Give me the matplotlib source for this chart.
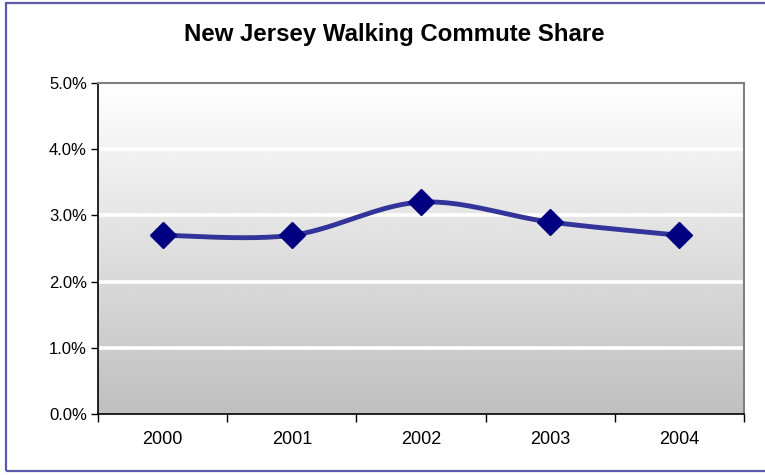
import numpy as np
import matplotlib
matplotlib.use("Agg")
import matplotlib.pyplot as plt
from matplotlib.patches import Rectangle
from matplotlib.ticker import FixedLocator, NullFormatter, FuncFormatter

plt.rcParams['font.family'] = ['Liberation Sans', 'DejaVu Sans']

years = ["2000", "2001", "2002", "2003", "2004"]
share = [2.7, 2.7, 3.2, 2.9, 2.7]  # percent of commuters who walk
y_ticks = [0, 1, 2, 3, 4, 5]


def smooth_curve(x, y, steps=40):
    """Catmull-Rom style Bezier smoothing through each point."""
    x = np.asarray(x, float)
    y = np.asarray(y, float)
    px = np.concatenate([[x[0]], x, [x[-1]]])
    py = np.concatenate([[y[0]], y, [y[-1]]])
    xs, ys = [], []
    t = np.linspace(0, 1, steps)
    for i in range(1, len(px) - 2):
        p0 = np.array([px[i], py[i]])
        p3 = np.array([px[i + 1], py[i + 1]])
        c1 = p0 + (np.array([px[i + 1], py[i + 1]]) - np.array([px[i - 1], py[i - 1]])) / 6
        c2 = p3 - (np.array([px[i + 2], py[i + 2]]) - np.array([px[i], py[i]])) / 6
        b = ((1 - t) ** 3)[:, None] * p0 + (3 * (1 - t) ** 2 * t)[:, None] * c1 \
            + (3 * (1 - t) * t ** 2)[:, None] * c2 + (t ** 3)[:, None] * p3
        xs.append(b[:, 0])
        ys.append(b[:, 1])
    return np.concatenate(xs), np.concatenate(ys)


fig = plt.figure(figsize=(7.65, 4.75), dpi=100)
ax = fig.add_axes([98 / 765, 1 - 414 / 475, 646 / 765, 331 / 475])

x = np.arange(len(years))
ax.set_xlim(-0.5, len(years) - 0.5)
ax.set_ylim(0, 5)

# vertical gray gradient background
grad = np.linspace(0.75, 1.0, 256).reshape(-1, 1)
ax.imshow(grad, cmap="gray", vmin=0, vmax=1, origin="lower", aspect="auto",
          extent=(-0.5, len(years) - 0.5, 0, 5), zorder=0, interpolation="bicubic")

for v in y_ticks[1:-1]:
    ax.axhline(v, color="white", lw=2.6, zorder=1)

sx, sy = smooth_curve(x, share)
ax.plot(sx, sy, color="#333399", lw=3.5, zorder=3, solid_capstyle="round")
ax.plot(x, share, linestyle="none", marker="D", markersize=13,
        color="#000080", zorder=4)

ax.yaxis.set_major_locator(FixedLocator(y_ticks))
ax.yaxis.set_major_formatter(FuncFormatter(lambda v, p: f"{v:.1f}%"))
ax.xaxis.set_major_locator(FixedLocator(np.arange(-0.5, len(years), 1.0)))
ax.xaxis.set_major_formatter(NullFormatter())
ax.xaxis.set_minor_locator(FixedLocator(x))
ax.set_xticklabels(years, minor=True)
ax.tick_params(axis="x", which="major", direction="out", length=6, width=1, color="black")
ax.tick_params(axis="x", which="minor", length=0, pad=12.5, labelsize=13)
ax.tick_params(axis="y", direction="out", length=5, width=1, color="black", labelsize=12, pad=3)

for side in ("left", "bottom"):
    ax.spines[side].set_color("black")
    ax.spines[side].set_linewidth(1.2)
for side in ("top", "right"):
    ax.spines[side].set_color("#808080")
    ax.spines[side].set_linewidth(1.5)

fig.text(394 / 765, 1 - 34 / 475, "New Jersey Walking Commute Share",
         ha="center", va="center", fontsize=17.3, fontweight="bold")

# outer chart border
fig.patches.append(Rectangle((6 / 765, 4 / 475), 765 / 765, 468 / 475,
                             transform=fig.transFigure, fill=False,
                             edgecolor="#5B5BAA", lw=1.6))

fig.savefig("out.png", dpi=100)
